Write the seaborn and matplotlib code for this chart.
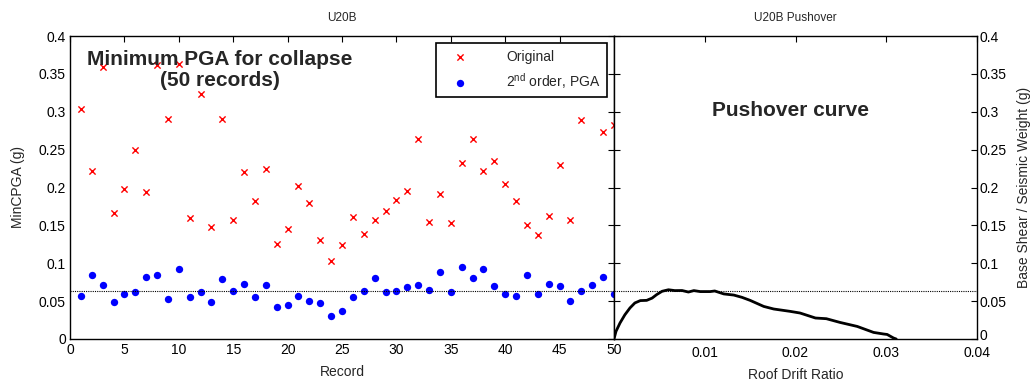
import numpy as np
import pandas as pd
import matplotlib
matplotlib.use("Agg")
import matplotlib.pyplot as plt
import matplotlib.transforms as mtransforms
import seaborn as sns

# Minimum PGA causing collapse, per ground-motion record (g)
records = list(range(1, 51))
original_pga = [
    0.303, 0.222, 0.359, 0.166, 0.198, 0.249, 0.194, 0.362, 0.291, 0.363,
    0.160, 0.323, 0.148, 0.291, 0.157, 0.221, 0.182, 0.224, 0.126, 0.145,
    0.202, 0.179, 0.131, 0.103, 0.124, 0.161, 0.139, 0.157, 0.169, 0.184,
    0.196, 0.264, 0.154, 0.191, 0.153, 0.233, 0.264, 0.222, 0.235, 0.204,
    0.182, 0.150, 0.137, 0.163, 0.230, 0.157, 0.289, np.nan, 0.273, 0.283,
]
second_order_pga = [
    0.057, 0.084, 0.071, 0.049, 0.060, 0.062, 0.082, 0.084, 0.053, 0.092,
    0.056, 0.062, 0.049, 0.079, 0.063, 0.073, 0.056, 0.071, 0.042, 0.045,
    0.057, 0.050, 0.047, 0.030, 0.037, 0.055, 0.063, 0.080, 0.062, 0.063,
    0.068, 0.071, 0.065, 0.088, 0.062, 0.095, 0.081, 0.093, 0.070, 0.059,
    0.057, 0.084, 0.059, 0.073, 0.070, 0.050, 0.063, 0.071, 0.082, 0.059,
]
pushover_peak = 0.064

# Pushover curve: roof drift ratio vs base shear / seismic weight
roof_drift = [
    0.0, 0.00022, 0.00066, 0.0012, 0.00176, 0.0023, 0.0029, 0.0036, 0.0042,
    0.0047, 0.0053, 0.0060, 0.0067, 0.0075, 0.0082, 0.0088, 0.0095, 0.0106,
    0.0111, 0.0121, 0.0132, 0.0141, 0.0150, 0.0165, 0.0176, 0.0194, 0.0205,
    0.0222, 0.0234, 0.0249, 0.0268, 0.0286, 0.0297, 0.0301, 0.0308, 0.0311,
]
base_shear = [
    0.0, 0.0101, 0.0211, 0.032, 0.041, 0.0476, 0.0507, 0.051, 0.054,
    0.0586, 0.063, 0.065, 0.0639, 0.064, 0.062, 0.0639, 0.0626, 0.0626,
    0.0634, 0.0595, 0.058, 0.055, 0.051, 0.043, 0.0396, 0.0365, 0.0343,
    0.0277, 0.0268, 0.0219, 0.0166, 0.0087, 0.0066, 0.006, 0.0013, 0.0,
]

sns.set_style("white")
plt.rcParams["font.family"] = ["Liberation Sans", "DejaVu Sans"]
plt.rcParams["font.size"] = 10

pga_df = pd.DataFrame({
    "Record": records,
    "original": original_pga,
    "second": second_order_pga,
})
push_df = pd.DataFrame({"drift": roof_drift, "shear": base_shear})

fig = plt.figure(figsize=(10.31, 3.82), dpi=100)
ax1 = fig.add_axes([70 / 1031, 43 / 382, 544 / 1031, 303 / 382])
ax2 = fig.add_axes([614 / 1031, 43 / 382, 363 / 1031, 303 / 382])

# Left panel: minimum collapse PGA per record
sns.scatterplot(data=pga_df, x="Record", y="original", marker="x", color="red",
                s=20, linewidth=1.0, label="Original", ax=ax1)
sns.scatterplot(data=pga_df, x="Record", y="second", marker="o", color="blue",
                s=28, linewidth=0, label="2$^{\\mathregular{nd}}$ order, PGA", ax=ax1)
ax1.axhline(pushover_peak, color="black", linestyle=(0, (1, 1)), linewidth=0.8)
ax1.set_xlim(0, 50)
ax1.set_ylim(0, 0.4)
ax1.set_xticks(range(0, 51, 5))
ax1.set_yticks(np.arange(0, 0.401, 0.05))
ax1.set_yticklabels(["0", "0.05", "0.1", "0.15", "0.2", "0.25", "0.3", "0.35", "0.4"])
ax1.set_xlabel("Record", fontsize=10, labelpad=6)
ax1.set_ylabel("MinCPGA (g)", fontsize=10, labelpad=10)
ax1.set_title("U20B", fontsize=8.5, pad=11)
ax1.text(0.276, 0.955, "Minimum PGA for collapse\n(50 records)", transform=ax1.transAxes,
         ha="center", va="top", fontsize=15, fontweight="bold", linespacing=1.15)
leg = ax1.legend(loc="upper right", bbox_to_anchor=(0.992, 0.985), frameon=True,
                 fancybox=False, edgecolor="black", fontsize=10, handletextpad=2.0,
                 borderpad=0.45, labelspacing=0.55, handlelength=2.6, framealpha=1,
                 borderaxespad=0.2)
leg.get_frame().set_linewidth(1.2)

# Right panel: pushover curve
sns.lineplot(data=push_df, x="drift", y="shear", sort=False, color="black",
             linewidth=2.0, ax=ax2)
ax2.axhline(pushover_peak, color="black", linestyle=(0, (1, 1)), linewidth=0.8)
ax2.set_xlim(0, 0.04)
ax2.set_ylim(0, 0.4)
ax2.set_xticks([0.01, 0.02, 0.03, 0.04])
ax2.set_xticklabels(["0.01", "0.02", "0.03", "0.04"])
ax2.set_yticks(np.arange(0, 0.401, 0.05))
ax2.set_yticklabels(["0", "0.05", "0.1", "0.15", "0.2", "0.25", "0.3", "0.35", "0.4"])
ax2.yaxis.set_label_position("right")
ax2.set_xlabel("Roof Drift Ratio", fontsize=10, labelpad=6)
ax2.set_ylabel("Base Shear / Seismic Weight (g)", fontsize=10, labelpad=7)
ax2.set_title("U20B Pushover", fontsize=8.5, pad=11)
ax2.text(0.487, 0.755, "Pushover curve", transform=ax2.transAxes, ha="center",
         va="center", fontsize=15, fontweight="bold")

for ax in (ax1, ax2):
    for sp in ax.spines.values():
        sp.set_visible(True)
        sp.set_color("black")
        sp.set_linewidth(1.0)
    ax.tick_params(direction="in", length=4, width=0.8, top=True, right=True,
                   labelsize=10, pad=3, colors="black")
ax1.tick_params(labelright=False, labeltop=False)
ax2.tick_params(left=True, labelleft=False, labelright=True, labeltop=False)
ax2.tick_params(axis="y", pad=2)
ax2.tick_params(axis="x", pad=5)

# lift the zero label on the right axis a little so it clears the 0.04 tick label
zero_label = ax2.yaxis.get_majorticklabels()[0]
zero_label.set_transform(zero_label.get_transform() +
                         mtransforms.ScaledTranslation(0, 3 / 72, fig.dpi_scale_trans))
zero_label.set_verticalalignment("center_baseline")

fig.savefig("out.png", dpi=100)
